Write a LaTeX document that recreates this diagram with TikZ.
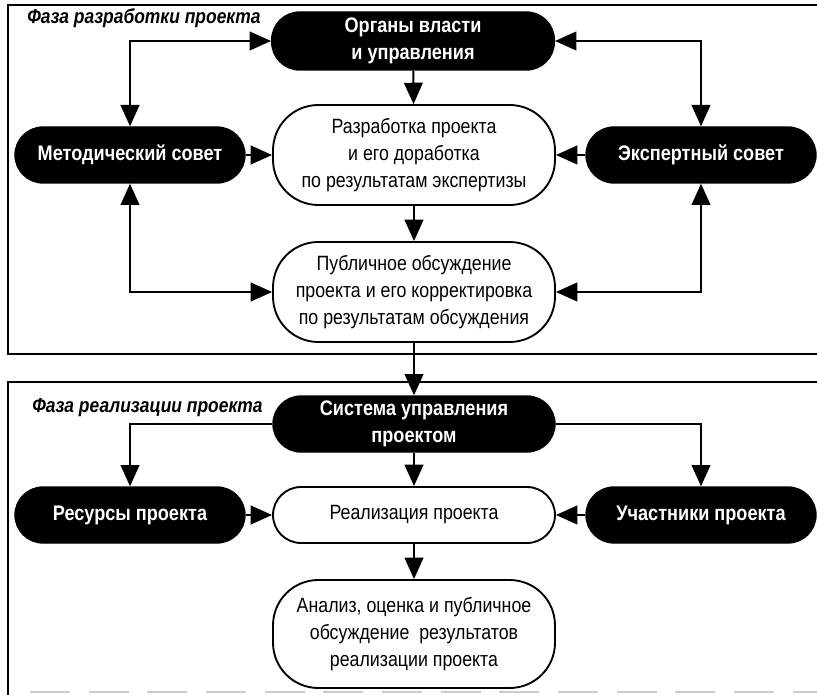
\documentclass[tikz,border=0pt]{standalone}
\usepackage{fontspec}
\setmainfont{Liberation Sans}[FakeStretch=0.86]
\usetikzlibrary{arrows.meta}

\tikzset{
  darkbox/.style={draw=black, fill=black, text=white, line width=1pt, rounded corners=21pt,
    minimum width=172.5pt, minimum height=42pt, inner sep=0pt, align=center,
    font=\fontsize{15.8}{20}\selectfont\bfseries},
  lightbox/.style={draw=black, fill=white, line width=1.4pt, rounded corners=34pt,
    minimum width=211.5pt, minimum height=75pt, inner sep=0pt, align=center,
    font=\fontsize{15.5}{20}\selectfont},
  arr/.style={line width=1.5pt, -{Triangle[length=16pt,width=14pt]}},
  dblarr/.style={line width=1.5pt, {Triangle[length=16pt,width=14pt]}-{Triangle[length=16pt,width=14pt]}},
  phase/.style={anchor=west, inner sep=0pt, font=\fontsize{15.2}{18}\selectfont\bfseries\itshape},
  frame/.style={line width=1.4pt}
}

\begin{document}
\begin{tikzpicture}[x=0.75pt,y=0.75pt,yscale=-1,xscale=1]
\useasboundingbox (0,0) rectangle (817,695);

% frames
\draw[frame] (817,5) -- (8,5) -- (8,354) -- (817,354);
\draw[frame] (817,382) -- (8,382) -- (8,695);
\draw[gray!40, line width=0.8pt, dash pattern=on 30pt off 14pt] (30,692) -- (817,692);

% phase 1
\node[phase] (title1) at (27,18) {Фаза разработки проекта};
\node[darkbox, minimum width=212pt, minimum height=43.5pt] (organy) at (413,41) {Органы власти\\и управления};
\node[darkbox] (metod) at (130,155) {Методический совет};
\node[darkbox] (expert) at (701,155) {Экспертный совет};
\node[lightbox] (razr) at (414,155) {Разработка проекта\\и его доработка\\по результатам экспертизы};
\node[lightbox] (publ) at (414,292) {Публичное обсуждение\\проекта и его корректировка\\по результатам обсуждения};

% phase 2
\node[phase] (title2) at (32,408) {Фаза реализации проекта};
\node[darkbox, minimum width=211.5pt] (sistema) at (414,424) {Система управления\\проектом};
\node[darkbox] (resursy) at (130,515) {Ресурсы проекта};
\node[lightbox, minimum height=42pt, rounded corners=21pt] (realiz) at (414,515) {Реализация проекта};
\node[darkbox] (uchast) at (701,515) {Участники проекта};
\node[lightbox, minimum height=81pt] (analiz) at (414,634) {Анализ, оценка и публичное\\обсуждение~ результатов\\реализации проекта};

% connectors
\draw[dblarr] (organy.west) -| (metod.north);
\draw[dblarr] (metod.south) |- (publ.west);
\draw[dblarr] (organy.east) -| (expert.north);
\draw[dblarr] (expert.south) |- (publ.east);
\draw[arr] (metod) -- (razr);
\draw[arr] (expert) -- (razr);
\draw[arr] (organy) -- (razr);
\draw[arr] (razr) -- (publ);
\draw[arr] (publ) -- (sistema);
\draw[arr] (sistema.west) -| (resursy.north);
\draw[arr] (sistema.east) -| (uchast.north);
\draw[arr] (resursy) -- (realiz);
\draw[arr] (uchast) -- (realiz);
\draw[arr] (sistema) -- (realiz);
\draw[arr] (realiz) -- (analiz);

\end{tikzpicture}
\end{document}
